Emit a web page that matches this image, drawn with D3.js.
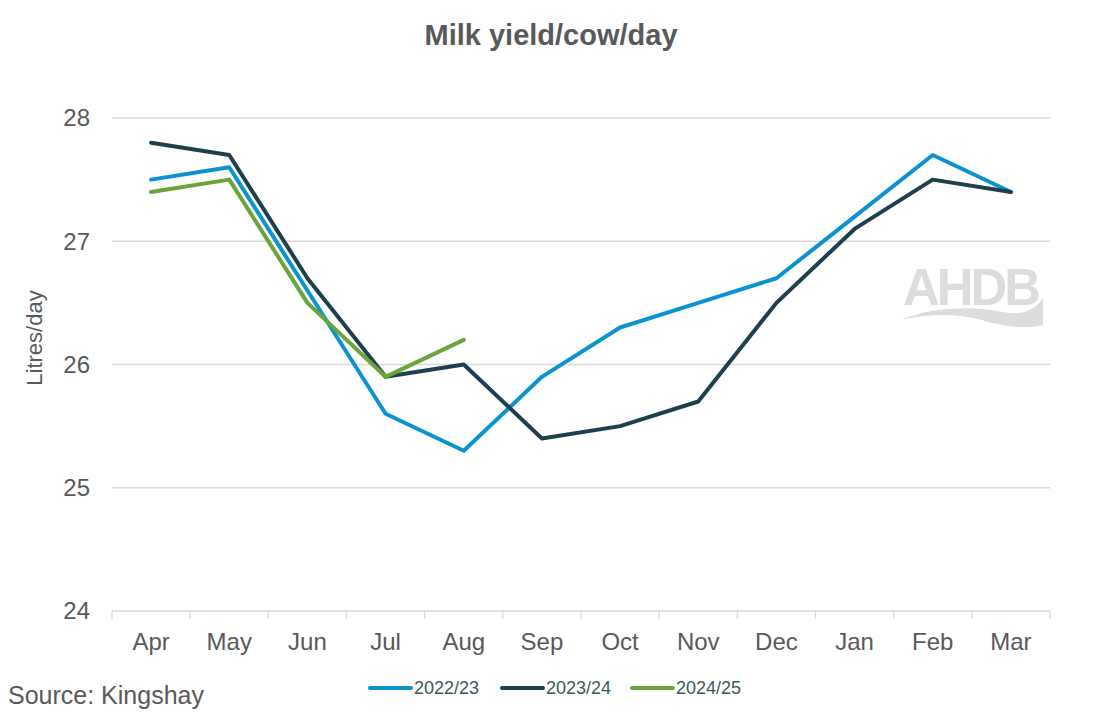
<!DOCTYPE html>
<html>
<head>
<meta charset="utf-8">
<script src="https://cdn.jsdelivr.net/npm/d3@7"></script>
<style>
  body { margin: 0; background: #fff; }
  svg { font-family: "Liberation Sans", Arial, sans-serif; }
</style>
</head>
<body>
<svg id="chart" width="1103" height="718"></svg>
<script>
// data
var months = ["Apr", "May", "Jun", "Jul", "Aug", "Sep", "Oct", "Nov", "Dec", "Jan", "Feb", "Mar"];
var y2022 = [27.5, 27.6, 26.6, 25.6, 25.3, 25.9, 26.3, 26.5, 26.7, 27.2, 27.7, 27.4];
var y2023 = [27.8, 27.7, 26.7, 25.9, 26.0, 25.4, 25.5, 25.7, 26.5, 27.1, 27.5, 27.4];
var y2024 = [27.4, 27.5, 26.5, 25.9, 26.2];
var yTicks = [24, 25, 26, 27, 28];

var series = [
  { name: "2022/23", values: y2022, color: "#0a93d1" },
  { name: "2023/24", values: y2023, color: "#1d3f4e" },
  { name: "2024/25", values: y2024, color: "#6aa43a" }
];

var svg = d3.select("#chart"),
    margin = {top: 118, right: 53, bottom: 107, left: 112},
    width = +svg.attr("width") - margin.left - margin.right,
    height = +svg.attr("height") - margin.top - margin.bottom;

var x = d3.scaleBand().domain(months).range([0, width]),
    y = d3.scaleLinear().domain([24, 28]).range([height, 0]);

var g = svg.append("g")
    .attr("transform", "translate(" + margin.left + "," + margin.top + ")");

// gridlines
g.selectAll(".grid")
    .data(yTicks.filter(function(d) { return d > 24; }))
    .enter().append("line")
      .attr("x1", 0).attr("x2", width)
      .attr("y1", function(d) { return y(d); })
      .attr("y2", function(d) { return y(d); })
      .attr("stroke", "#d9d9d9")
      .attr("stroke-width", 1.3);

// y axis labels
g.selectAll(".ylab")
    .data(yTicks)
    .enter().append("text")
      .attr("x", -22)
      .attr("y", function(d) { return y(d); })
      .attr("dy", "0.35em")
      .attr("text-anchor", "end")
      .attr("font-size", 24)
      .attr("fill", "#595959")
      .text(function(d) { return d; });

// x axis with ticks between categories
var xAxis = g.append("g").attr("transform", "translate(0," + height + ")");
xAxis.append("line")
    .attr("x1", 0).attr("x2", width)
    .attr("stroke", "#d9d9d9").attr("stroke-width", 1.3);
xAxis.selectAll(".tk")
    .data(d3.range(months.length + 1))
    .enter().append("line")
      .attr("x1", function(i) { return i * x.step(); })
      .attr("x2", function(i) { return i * x.step(); })
      .attr("y1", 0).attr("y2", 8)
      .attr("stroke", "#d9d9d9").attr("stroke-width", 1.3);
xAxis.selectAll(".xlab")
    .data(months)
    .enter().append("text")
      .attr("x", function(d) { return x(d) + x.bandwidth() / 2; })
      .attr("y", 39)
      .attr("text-anchor", "middle")
      .attr("font-size", 24)
      .attr("fill", "#595959")
      .text(function(d) { return d; });

// y axis title
svg.append("text")
    .attr("transform", "translate(42,338) rotate(-90)")
    .attr("text-anchor", "middle")
    .attr("font-size", 22)
    .attr("fill", "#595959")
    .text("Litres/day");

// title
svg.append("text")
    .attr("x", 551).attr("y", 45)
    .attr("text-anchor", "middle")
    .attr("font-size", 29)
    .attr("font-weight", "bold")
    .attr("fill", "#595959")
    .text("Milk yield/cow/day");

// AHDB watermark
var logo = svg.append("g").attr("transform", "translate(903,0)");
logo.append("text")
    .attr("x", 0).attr("y", 305)
    .attr("font-size", 51)
    .attr("font-weight", "bold")
    .attr("fill", "#dcdcdc")
    .attr("textLength", 138)
    .text("AHDB");
logo.append("path")
    .attr("d", "M-2,320 C30,306 70,306 100,312 C120,316 132,310 140,298 L140,325 C120,330 100,326 75,319 C50,313 25,314 -2,320 Z")
    .attr("fill", "#dcdcdc");

// lines
var line = d3.line()
    .x(function(d, i) { return x(months[i]) + x.bandwidth() / 2; })
    .y(function(d) { return y(d); });

g.selectAll(".series")
    .data(series)
    .enter().append("path")
      .attr("fill", "none")
      .attr("stroke", function(d) { return d.color; })
      .attr("stroke-width", 4)
      .attr("stroke-linejoin", "round")
      .attr("stroke-linecap", "round")
      .attr("d", function(d) { return line(d.values); });

// legend
var legendX = [368, 500, 630];
var lg = svg.selectAll(".legend")
    .data(series)
    .enter().append("g")
      .attr("transform", function(d, i) { return "translate(" + legendX[i] + ",688)"; });
lg.append("line")
    .attr("x1", 2).attr("x2", 43)
    .attr("stroke", function(d) { return d.color; })
    .attr("stroke-width", 4)
    .attr("stroke-linecap", "round");
lg.append("text")
    .attr("x", 46).attr("dy", "0.35em")
    .attr("font-size", 18)
    .attr("fill", "#375a5a")
    .text(function(d) { return d.name; });

// source
svg.append("text")
    .attr("x", 8).attr("y", 704)
    .attr("font-size", 25)
    .attr("fill", "#595959")
    .text("Source: Kingshay");
</script>
</body>
</html>
